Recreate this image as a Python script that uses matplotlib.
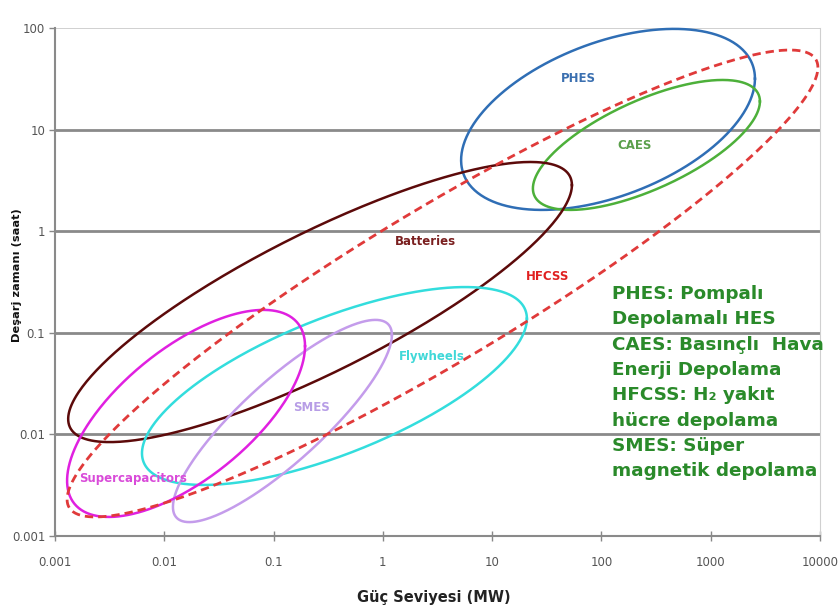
import matplotlib
matplotlib.use("Agg")
import matplotlib.pyplot as plt
import numpy as np

# energy storage technologies, each region read off as its bounding box
# (power in MW, discharge time in hours) plus how far the top point leans right
names = ["PHES", "CAES", "Batteries", "Flywheels", "SMES", "Supercapacitors", "HFCSS"]
x_lo = [5.2, 23.6, 0.00132, 0.00625, 0.0120, 0.00129, 0.00129]
x_hi = [2540, 2820, 53.7, 20.8, 1.21, 0.194, 9570]
y_lo = [1.62, 1.62, 0.0084, 0.00318, 0.00137, 0.00154, 0.00154]
y_hi = [98, 30.8, 4.8, 0.282, 0.134, 0.168, 60.7]
tilt = [0.45, 0.67, 0.835, 0.68, 0.85, 0.65, 0.925]

label_x = [61, 202, 2.43, 2.81, 0.2245, 0.00518, 32.4]
label_y = [32.2, 7.05, 0.783, 0.0578, 0.0186, 0.00372, 0.362]

line_colors = ["#2f6eb5", "#4db03a", "#5c0a0a", "#33dddd", "#c49ceb", "#e020e0", "#e03a3a"]
text_colors = ["#3a6fb0", "#5a9f4a", "#7a1f1f", "#40d8d8", "#b79de6", "#d94bd9", "#e02020"]

legend_lines = [
    "PHES: Pompalı",
    "Depolamalı HES",
    "CAES: Basınçlı  Hava",
    "Enerji Depolama",
    "HFCSS: H₂ yakıt",
    "hücre depolama",
    "SMES: Süper",
    "magnetik depolama",
]

x_ticks = [0.001, 0.01, 0.1, 1, 10, 100, 1000, 10000]
x_tick_labels = ["0.001", "0.01", "0.1", "1", "10", "100", "1000", "10000"]
y_ticks = [0.001, 0.01, 0.1, 1, 10, 100]
y_tick_labels = ["0.001", "0.01", "0.1", "1", "10", "100"]

TICK_FONT = ["Liberation Sans Narrow", "DejaVu Sans"]


def ellipse_points(lo_x, hi_x, lo_y, hi_y, lean, n=400):
    """Ellipse in log-log space from its bounding box and lean of its top point."""
    cx = (np.log10(lo_x) + np.log10(hi_x)) / 2
    cy = (np.log10(lo_y) + np.log10(hi_y)) / 2
    hx = (np.log10(hi_x) - np.log10(lo_x)) / 2
    hy = (np.log10(hi_y) - np.log10(lo_y)) / 2
    delta = np.arccos(lean)
    t = np.linspace(0, 2 * np.pi, n)
    return 10 ** (cx + hx * np.cos(t)), 10 ** (cy + hy * np.cos(t - delta))


fig = plt.figure(figsize=(8.38, 6.12), dpi=100, facecolor="white")
ax = fig.add_axes([55 / 838, 1 - 536 / 612, (820 - 55) / 838, (536 - 28) / 612])
ax.set_xscale("log")
ax.set_yscale("log")
ax.set_xlim(0.001, 10000)
ax.set_ylim(0.001, 100)

for yv in y_ticks[1:-1]:
    ax.axhline(yv, color="#8a8a8a", lw=2.0, zorder=1)
ax.axhline(100, color="#c8c8c8", lw=1.2, zorder=1)

for i, name in enumerate(names):
    xs, ys = ellipse_points(x_lo[i], x_hi[i], y_lo[i], y_hi[i], tilt[i])
    style = (0, (3, 1.8)) if name == "HFCSS" else "-"
    ax.plot(xs, ys, color=line_colors[i], lw=1.8 if name != "HFCSS" else 2.0,
            ls=style, zorder=3, clip_on=False)
    ax.text(label_x[i], label_y[i], name, color=text_colors[i], fontsize=8.5,
            fontweight="bold", ha="center", va="center", family=TICK_FONT, zorder=4)

for k, line in enumerate(legend_lines):
    fig.text(612 / 838, 1 - (294 + k * 25.3) / 612, line, color="#2a8a2a",
             fontsize=13.2, fontweight="bold", ha="left", va="center")

ax.set_xticks(x_ticks)
ax.set_xticklabels(x_tick_labels, family=TICK_FONT, fontsize=8.5, color="#555555")
ax.set_yticks(y_ticks)
ax.set_yticklabels(y_tick_labels, family=TICK_FONT, fontsize=8.5, color="#555555")
ax.minorticks_off()
ax.tick_params(axis="x", direction="inout", length=7, width=1, color="#888888", pad=11)
ax.tick_params(axis="y", direction="out", length=4, width=1, color="#888888", pad=3)

for side in ["left", "bottom"]:
    ax.spines[side].set_color("#8a8a8a")
    ax.spines[side].set_linewidth(1.5)
ax.spines["right"].set_color("#d0d0d0")
ax.spines["top"].set_visible(False)

ax.set_xlabel("Güç Seviyesi (MW)", fontsize=10.5, fontweight="bold", color="#222222")
ax.xaxis.set_label_coords((434 - 55) / 765, -(590 - 536) / 508)
ax.set_ylabel("Deşarj zamanı (saat)", fontsize=8.2, fontweight="bold", color="#111111")
ax.yaxis.set_label_coords((22 - 55) / 765, (536 - 275) / 508)

fig.savefig("out.png", dpi=100, facecolor="white")
